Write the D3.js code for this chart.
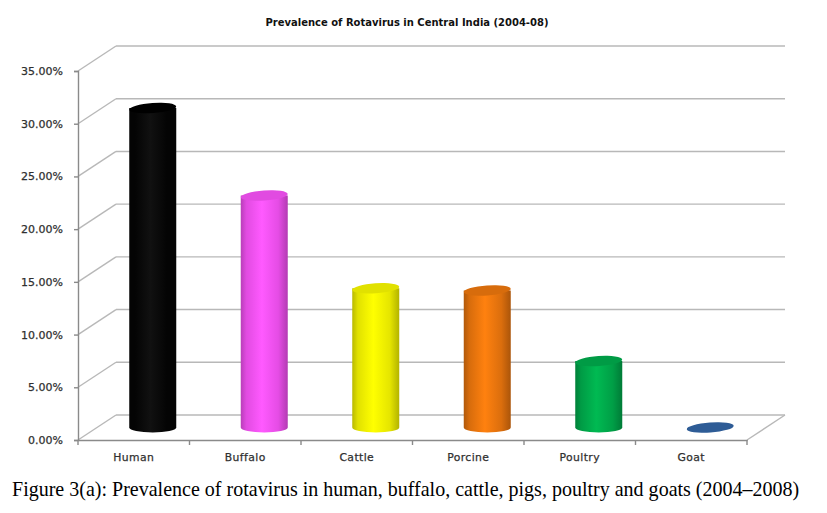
<!DOCTYPE html>
<html>
<head>
<meta charset="utf-8">
<script src="https://cdn.jsdelivr.net/npm/d3@7"></script>
<style>
  body { margin: 0; background: #fff; }
  svg { display: block; }
</style>
</head>
<body>
<svg id="chart"></svg>
<script>
// Data
const categories = ['Human', 'Buffalo', 'Cattle', 'Porcine', 'Poultry', 'Goat'];
const prevalence = [30.3, 22.0, 13.2, 13.0, 6.3, 0.0];
const yTicks = [0, 5, 10, 15, 20, 25, 30, 35];
const barColors = ['#050505', '#ff55ff', '#ffff00', '#f47a0e', '#00b04e', '#2e5c96'];
const titleText = 'Prevalence of Rotavirus in Central India (2004-08)';
const captionText = 'Figure 3(a): Prevalence of rotavirus in human, buffalo, cattle, pigs, poultry and goats (2004\u20132008)';

const width = 827, height = 513;
const svg = d3.select('#chart').attr('width', width).attr('height', height);

// front plane of the 3D box
const x = d3.scaleBand().domain(categories).range([78, 747]);
const y = d3.scaleLinear().domain([0, 35]).range([440, 71]);
const depth = { dx: 38, dy: -25 };

// fit text to a target width
function fitText(sel, target) {
  const w = sel.node().getComputedTextLength();
  const fs = parseFloat(sel.attr('font-size'));
  sel.attr('font-size', (fs * target / w).toFixed(2));
}

// --- walls and gridlines ---
const grid = svg.append('g').attr('class', 'grid')
  .attr('stroke', '#b8b8b8').attr('stroke-width', 1.4).attr('fill', 'none');

grid.selectAll('.back-line')
  .data(yTicks)
  .join('line')
  .attr('x1', x.range()[0] + depth.dx)
  .attr('x2', x.range()[1] + depth.dx)
  .attr('y1', d => y(d) + depth.dy)
  .attr('y2', d => y(d) + depth.dy);

grid.selectAll('.side-line')
  .data(yTicks)
  .join('line')
  .attr('x1', x.range()[0])
  .attr('x2', x.range()[0] + depth.dx)
  .attr('y1', d => y(d))
  .attr('y2', d => y(d) + depth.dy);

// floor right edge
grid.append('line')
  .attr('x1', x.range()[1]).attr('y1', y(0))
  .attr('x2', x.range()[1] + depth.dx).attr('y2', y(0) + depth.dy);

// --- axes ---
const axisColor = '#8a8a8a';
const yAxis = svg.append('g').attr('transform', `translate(${x.range()[0]},0)`)
  .call(d3.axisLeft(y).tickValues(yTicks).tickSize(4).tickPadding(11)
    .tickFormat(d => d.toFixed(2) + '%'));
yAxis.select('.domain').attr('stroke', axisColor).attr('stroke-width', 1.4);
yAxis.selectAll('.tick line').attr('stroke', axisColor).attr('stroke-width', 1.4);
yAxis.selectAll('.tick text')
  .attr('font-family', 'DejaVu Sans').attr('font-size', 11)
  .attr('fill', '#303030').attr('stroke', '#303030').attr('stroke-width', 0.25);

const xAxis = svg.append('g').attr('transform', `translate(0,${y(0)})`)
  .call(d3.axisBottom(x).tickSize(0).tickPadding(13));
xAxis.select('.domain').attr('stroke', axisColor).attr('stroke-width', 1.4);
xAxis.selectAll('.tick text')
  .attr('font-family', 'DejaVu Sans').attr('font-size', 10.8)
  .attr('fill', '#303030').attr('stroke', '#303030').attr('stroke-width', 0.25)
  .attr('letter-spacing', 0.4);

// band boundary ticks
const bounds = categories.map(c => x(c)).concat([x.range()[1]]);
svg.append('g').selectAll('line')
  .data(bounds)
  .join('line')
  .attr('x1', d => d).attr('x2', d => d)
  .attr('y1', y(0)).attr('y2', y(0) + 5)
  .attr('stroke', axisColor).attr('stroke-width', 1.4);

// --- cylinder gradients ---
const defs = svg.append('defs');
barColors.forEach((c, i) => {
  const base = d3.color(c);
  const g = defs.append('linearGradient').attr('id', 'body' + i)
    .attr('x1', 0).attr('x2', 1).attr('y1', 0).attr('y2', 0);
  g.append('stop').attr('offset', 0).attr('stop-color', base.darker(0.9));
  g.append('stop').attr('offset', 0.12).attr('stop-color', base.darker(0.35));
  g.append('stop').attr('offset', 0.45).attr('stop-color', i === 0 ? '#111' : base.brighter(0.15));
  g.append('stop').attr('offset', 0.8).attr('stop-color', base.darker(0.3));
  g.append('stop').attr('offset', 1).attr('stop-color', base.darker(1.0));
});

// --- cylinders ---
const rx = 23.5, ry = 5;
const tilt = -4;
const bars = svg.append('g').attr('class', 'bars')
  .selectAll('g')
  .data(categories.map((c, i) => ({ cat: c, value: prevalence[i], i })))
  .join('g');

const cxOf = d => x(d.cat) + x.bandwidth() / 2 + depth.dx / 2;
const baseY = y(0) + depth.dy / 2;
const topY = d => y(d.value) + depth.dy / 2;

bars.filter(d => d.value > 0).append('path')
  .attr('d', d => {
    const cx = cxOf(d), t = topY(d);
    return `M${cx - rx},${t} L${cx - rx},${baseY} A${rx},${ry} 0 0 0 ${cx + rx},${baseY} L${cx + rx},${t} Z`;
  })
  .attr('fill', d => `url(#body${d.i})`);

bars.append('ellipse')
  .attr('cx', cxOf)
  .attr('cy', topY)
  .attr('rx', rx)
  .attr('ry', ry)
  .attr('transform', d => `rotate(${tilt},${cxOf(d)},${topY(d)})`)
  .attr('fill', d => d.i === 0 ? '#000' : d3.color(barColors[d.i]).darker(d.value > 0 ? 0.35 : 0));

// --- title and caption ---
const title = svg.append('text')
  .attr('x', 407).attr('y', 26)
  .attr('text-anchor', 'middle')
  .attr('font-family', 'DejaVu Sans').attr('font-weight', 'bold')
  .attr('font-size', 10).attr('fill', '#111')
  .text(titleText);
fitText(title, 283);

const caption = svg.append('text')
  .attr('x', 12).attr('y', 496)
  .attr('font-family', 'Liberation Serif')
  .attr('font-size', 17).attr('fill', '#000')
  .text(captionText);
fitText(caption, 788);
</script>
</body>
</html>
